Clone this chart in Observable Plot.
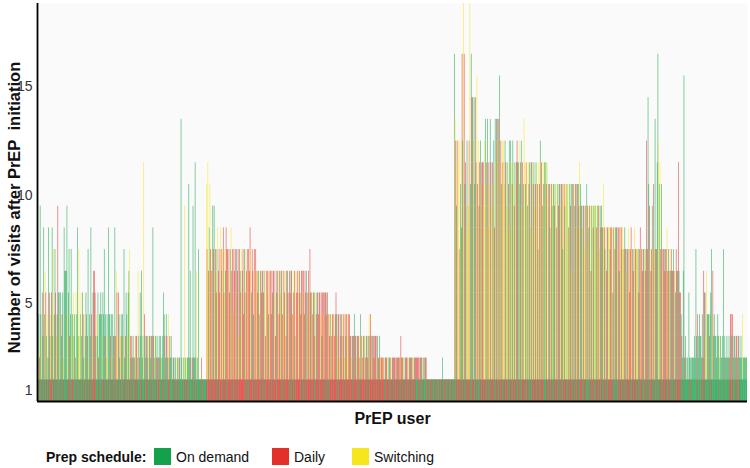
<!DOCTYPE html>
<html><head><meta charset="utf-8">
<script src="https://cdn.jsdelivr.net/npm/d3@7"></script>
<script src="https://cdn.jsdelivr.net/npm/@observablehq/plot@0.6"></script>
<style>
body{margin:0;background:#fff;font-family:"Liberation Sans",Arial,sans-serif;}
#wrap{position:relative;width:750px;height:468px;overflow:hidden;}
#legend{position:absolute;left:0;top:448px;width:750px;height:18px;font-size:14px;color:#111;}
.lg{position:absolute;top:0;height:18px;line-height:18px;white-space:nowrap;}
.sw{position:absolute;top:0;width:17px;height:17px;}
</style></head><body>
<div id="wrap"><div id="chart"></div><div id="legend"></div></div>
<script>
// Number of visits per PrEP user (base-36 digit per user: a=10 ... j=19), in four groups
const visitsA = ["6342943538","4653428534","5837475349","5545345286","6694573473","4534254837","3453542435","4372438435","6653435244","5435473424","3844342433","8365354234","3437235435","6732323223","3326325362","3b43233233","3233832332","3223232235","4324324232","3212212122","1221d21229","21222a2621","2922b26217","1112111111"];
const visitsB = ["a7b68a7679","7967578675","8767857687","7675786747","6757673765","7674757676","7687576476","7665646656","6566365646","6646566536","5664656646","6563665465","6646563656","5665466564","6564565755","5455354554","5545355455","5454434434","4434543442","4344342434","4344332333","4332333234","3323332332","3434323323","3323223222","2221222212","2212222221","2222223222","2122221222","2221222222","2212222122","2221111111","1111111111","1111121111","1111111111","11"];
const visitsC = ["gdc9cbc7ca","8gcjgab9c8","9cjageecea","ebfac9bcab","bb9cdabd8b","adb9bac8db","ddcdfbcacb","cacb9bbac8","cbacb9babc","bbcabc9bad","babb9bab8b","bbab9abba7","bacbb9babb","bab9aa8aa9","aa9aa8aa9a","a9aa7aa9aa","aa8aa9a6aa","a9aa8aa9ba","99899799a9","9899699899","9989997989","88a8786888","8788858878","8878688878","7787677875","7877678777","7757877677","767c7ea976","797a7d77bg","cab7a76776","7786767676","67665766b6","554326f232","1215221222"];
const visitsD = ["2327342343","3242655364","4434574634","3323432332","2372322322","3244342332","3323322324","222222"];

// Schedule at the first visit (g = on demand, r = daily)
const firstA = ["rgrggrgrgg","grgrggrggr","rggrgrggrg","ggrggrgrgg","grggrgrggr","rgrgggrgrg","ggrgrggrgg","grggrgrgrg","rrgrgggrgg","ggrgrgrggr","grgggrgrgg","rggrgrggrg","ggrgrggrgg","grggrgrggr","rgrgggrgrg","ggrggrgrgg","grgrggrggr","ggrgrgggrg","rggrggrgrg","gggrgrgggr","grggggrggr","ggrgggrggg","rggrgggrgg","ggrggrgggg"];
const firstB = ["rrgrrrgrrr","rgrrrrgrrg","rrrgrrrrgr","grrrgrrrrg","rrgrrgrrrr","rrrrgrrgrr","grrrrrgrrg","rrgrrrrgrr","rgrrgrrrrg","rrrgrrgrrr","grrrrgrrgr","rrgrrrrrgr","rgrrgrrgrr","rrrrgrrrgr","grrgrrrrrg","rrrgrgrrrr","rgrrrrgrrg","rrgrrgrrrr","grrrrgrrgr","rrrgrrrgrr","rgrrgrrrrg","rrrgrrgrrr","grrrrgrrgr","rrgrrrrgrr","rgrrgrrrgr","rrrgrgrrrr","grgrrrgrrg","rrgrgrrgrr","grrgrgrgrr","rgrgrrgrgg","grgrggrgrg","ggrgrgrggr","rgrggrgrgg","grggrgrgrr","ggrgrgggrg","rg"];
const firstC = ["grgrrgrgrg","rrgrgrgrgr","grrgrgrrgg","rgrgrggrrg","rrgrgrgrgr","grgrrgrgrg","rgrgrgrrgr","grrgrgrgrg","rgrgrrgrgr","grgrgrgrrg","rgrgrgrgrg","grrgrgrgrr","rgrgrrgrgg","grgrgrrgrg","rgrrgrgrgr","grgrgrgrrg","rgrgrrgrgr","grgrgrgrgr","rrgrgrgrgg","grgrrgrgrg","rgrgrgrrgr","grgrgrgrgr","rgrrgrgrgg","grgrgrrgrg","rgrgrgrgrr","grgrrgrgrg","rgrgrgrgrg","grrgrgrggr","rgrgrgggrg","grgrgrgrgr","rgrgrgrgrg","grgrgrgrgr","rgrgggrggg","gggrggrggg"];
const firstD = ["gggggrgggg","grggrrgggg","gggrgrgggg","ggggggrggg","gggrgggggg","grrrgrgggg","rrgggrgggg","gggggg"];

// Schedule at the later visits (g = on demand, r = daily, y = switching)
const laterA = ["rygrggyrgg","gyrgyggrgy","rggyggrygr","ggyggrgygg","gggyggrggy","gyggrygggy","ygyggrgygg","grgygggryg","rrrgyggrgg","ggygggrgyg","ygggrgyggr","gryryrggyg","rgyggrggyg","gyrgrggrgy","rrgygrgggg","gyrggrggyg","rggrgrgygr","grggrgyggg","grggrgygrg","gggrggggyg","ggrggggygy","ggygggggrg","ggrgggyggg","gggrgggggg"];
const laterB = ["yryrgyrryg","rgyrrgyrrr","yrgyrrygrr","ryrrgyrryr","rrygrryrgr","yrrrgryrry","rrrygrrgry","ryrrgryrrg","rrgyrryrgr","yrrrgrryrr","rgyrryrgry","rryrgrryrr","grryrrgyrr","ryrgrrryrg","rrgyrryrrg","yrrgryrrgr","rryrgrryrr","grryrrgyrr","ryrrrgyrry","rrgyrryrgr","yyrrgryrrg","grryrgrryg","ryrrgyrrgr","rygrryrgrr","rrygrrgyrr","ryrrgrryrg","grryrgrrry","rrgrryrrgr","yrrgrrrygr","rgrryrrgrr","rryrgrrrgy","grrgrrrrrr","rrrrrrrrrr","rrrrrgrrrr","rrrrrrrrrr","rr"];
const laterC = ["gyrgryyryg","grgyrgrygy","yryggrgyrg","gryrygrgyr","rryygyrgyr","ygryrygrgy","rgyrgyrgyr","yygrygyrgy","gyrgyrgygr","rgygrgyrgy","ygrygyrgyr","gyrgyrgyrg","yrgyrgyrgy","gryygrgyrg","ygrgyrygrg","rygrgyrgyy","gyrygrgyrg","ygrgyrgryg","rgyrgyrygr","ygryrgyrgy","gyrgyrygrg","rgyrgyrrgy","ygrrygryrg","rgyrgryrgy","yrgryrgyrr","rrygrryrgy","yrrgryrrgr","yrgrrggryr","rgyrygrrgg","ygyrgryrgr","rryrgrygrr","rgrygrrgrg","rrgrgggrgg","ggggggrggg"];
const laterD = ["gggggrgggg","gggrrgryyg","ggrgggyrgg","gggggggygg","gggrgggggg","grrrgrgggg","rrgrgggggy","gggggg"];

const yTicks = [1, 5, 10, 15];
const scheduleCodes = ["g", "r", "y"];
const scheduleNames = ["On demand", "Daily", "Switching"];
const scheduleColors = ["#13a24b", "#e3302b", "#f5e71c"];

const visits = [...visitsA, ...visitsB, ...visitsC, ...visitsD].join("");
const first = [...firstA, ...firstB, ...firstC, ...firstD].join("");
const later = [...laterA, ...laterB, ...laterC, ...laterD].join("");
const nameOf = c => scheduleNames[Math.max(0, scheduleCodes.indexOf(c))];

const cells = [];
for (let i = 0; i < visits.length; i++) {
  const n = parseInt(visits[i], 36);
  for (let v = 1; v <= n; v++) {
    cells.push({user: i, visit: v, schedule: nameOf(v === 1 ? first[i] : later[i])});
  }
}
const N = visits.length;

const chart = Plot.plot({
  width: 750, height: 432,
  marginLeft: 37, marginRight: 3, marginTop: 3, marginBottom: 31,
  style: {fontFamily: "'Liberation Sans', Arial, sans-serif", background: "white"},
  x: {domain: [0, N], axis: null},
  y: {domain: [0.5, 18.84]},
  color: {domain: scheduleNames, range: scheduleColors},
  marks: [
    Plot.frame({fill: "#fafafa", stroke: "none"}),
    Plot.rect(cells, {x1: "user", x2: d => d.user + 1, y1: d => d.visit - 0.5, y2: d => d.visit + 0.5, fill: "schedule", fillOpacity: d => d.visit === 1 ? 1 : 0.72, clip: true}),
    Plot.axisY({ticks: yTicks, tickSize: 0, tickPadding: 5, fontSize: 14, label: null, color: "#333"}),
    Plot.ruleX([0], {stroke: "#000", strokeWidth: 1.8}),
    Plot.ruleY([0.5], {stroke: "#000", strokeWidth: 1.8}),
    Plot.text(["Number of visits after PrEP\u00a0 initiation"], {frameAnchor: "left", rotate: -90, dx: -23, dy: 5, textAnchor: "middle", lineAnchor: "middle", fontSize: 16.5, fontWeight: "bold", fill: "#111"}),
    Plot.text(["PrEP user"], {frameAnchor: "bottom", dy: 17, textAnchor: "middle", lineAnchor: "middle", fontSize: 16, fontWeight: "bold", fill: "#111"})
  ]
});
document.getElementById("chart").appendChild(chart);

// Legend
const legend = document.getElementById("legend");
const title = document.createElement("div");
title.className = "lg"; title.style.left = "46px"; title.style.fontWeight = "bold";
title.textContent = "Prep schedule:";
legend.appendChild(title);
const swX = [154, 272, 352];
scheduleNames.forEach((name, k) => {
  const sw = document.createElement("div");
  sw.className = "sw"; sw.style.left = swX[k] + "px"; sw.style.background = scheduleColors[k];
  legend.appendChild(sw);
  const t = document.createElement("div");
  t.className = "lg"; t.style.left = (swX[k] + 22) + "px"; t.textContent = name;
  legend.appendChild(t);
});
</script>
</body></html>
